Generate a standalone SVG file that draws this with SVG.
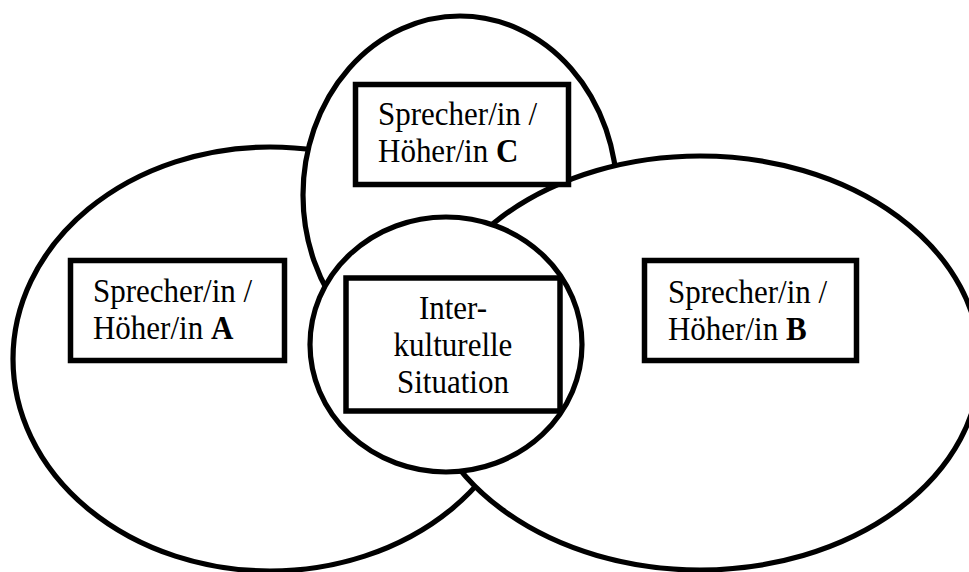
<svg xmlns="http://www.w3.org/2000/svg" width="969" height="572" viewBox="0 0 969 572">
  <style>
    .oval { fill: #ffffff; stroke: #000000; stroke-width: 5.2; }
    .box { fill: #ffffff; stroke: #000000; stroke-width: 5.5; }
    text { font-family: "Liberation Serif", "DejaVu Serif", serif; font-size: 31px; fill: #000000; }
    .b { font-weight: bold; }
  </style>
  <rect x="0" y="0" width="969" height="572" fill="#ffffff"/>
  <g id="ellipse-a">
    <ellipse class="oval" cx="270" cy="359" rx="257" ry="212"/>
  </g>
  <g id="ellipse-c">
    <ellipse class="oval" cx="460" cy="195" rx="157" ry="179"/>
  </g>
  <g id="ellipse-b">
    <ellipse class="oval" cx="700" cy="363" rx="280" ry="207"/>
  </g>
  <g id="circle-center">
    <ellipse class="oval" cx="446" cy="344.5" rx="136" ry="127.5"/>
  </g>
  <g id="node-a" font-family="Liberation Serif, serif">
    <rect class="box" x="70.5" y="260.5" width="214" height="100"/>
    <text x="93" y="302" transform="matrix(1 0 0 1.07 0 -21.14)">Sprecher/in /</text>
    <text x="93" y="339" transform="matrix(1 0 0 1.07 0 -23.73)">Höher/in <tspan class="b">A</tspan></text>
  </g>
  <g id="node-c" font-family="Liberation Serif, serif">
    <rect class="box" x="355.5" y="84.5" width="213" height="100"/>
    <text x="378" y="125" transform="matrix(1 0 0 1.07 0 -8.75)">Sprecher/in /</text>
    <text x="378" y="162" transform="matrix(1 0 0 1.07 0 -11.34)">Höher/in <tspan class="b">C</tspan></text>
  </g>
  <g id="node-b" font-family="Liberation Serif, serif">
    <rect class="box" x="644.5" y="260.5" width="212" height="100"/>
    <text x="668" y="303" transform="matrix(1 0 0 1.07 0 -21.21)">Sprecher/in /</text>
    <text x="668" y="340" transform="matrix(1 0 0 1.07 0 -23.8)">Höher/in <tspan class="b">B</tspan></text>
  </g>
  <g id="node-center" font-family="Liberation Serif, serif">
    <rect class="box" x="346" y="278" width="214" height="133"/>
    <text x="453" y="319" text-anchor="middle" transform="matrix(1 0 0 1.07 0 -22.33)">Inter-</text>
    <text x="453" y="356" text-anchor="middle" transform="matrix(1 0 0 1.07 0 -24.92)">kulturelle</text>
    <text x="453" y="393" text-anchor="middle" transform="matrix(1 0 0 1.07 0 -27.51)">Situation</text>
  </g>
</svg>
